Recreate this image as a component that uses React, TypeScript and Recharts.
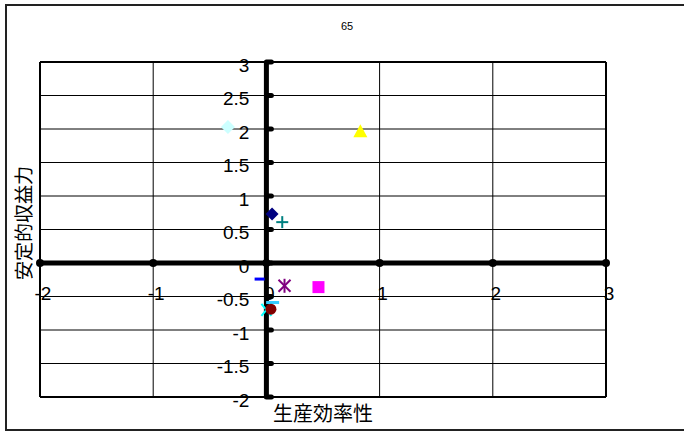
import { ScatterChart, Scatter, XAxis, YAxis, ReferenceLine, ReferenceDot } from 'recharts';

// x-axis: 生産効率性, y-axis: 安定的収益力
const markerKinds = ['diamondLight', 'triangle', 'diamondNavy', 'plus', 'dashBlue', 'asterisk', 'square', 'dashCyan', 'cross', 'circle'];
const xValues = [-0.34, 0.83, 0.05, 0.14, -0.06, 0.16, 0.46, 0.055, 0.0, 0.04];
const yValues = [2.03, 1.95, 0.73, 0.61, -0.24, -0.34, -0.36, -0.59, -0.7, -0.69];

const xTicks = [-2, -1, 0, 1, 2, 3];
const yTicks = [-2, -1.5, -1, -0.5, 0, 0.5, 1, 1.5, 2, 2.5, 3];

const FONT = '"Liberation Sans", Arial, sans-serif';
const CJK = '"Noto Sans CJK JP", sans-serif';

const renderMarker = (kind: string) => (props: any) => {
    const { cx, cy } = props;
    switch (kind) {
        case 'diamondLight':
            return <polygon points={`${cx},${cy - 7} ${cx + 7},${cy} ${cx},${cy + 7} ${cx - 7},${cy}`} fill="#ccffff" />;
        case 'diamondNavy':
            return <polygon points={`${cx},${cy - 6.5} ${cx + 6.5},${cy} ${cx},${cy + 6.5} ${cx - 6.5},${cy}`} fill="#000080" />;
        case 'triangle':
            return <polygon points={`${cx},${cy - 8} ${cx + 7},${cy + 5} ${cx - 7},${cy + 5}`} fill="#ffff00" />;
        case 'square':
            return <rect x={cx - 6} y={cy - 6} width={12} height={12} fill="#ff00ff" />;
        case 'circle':
            return <circle cx={cx} cy={cy} r={5.5} fill="#800000" />;
        case 'plus':
            return (
                <g stroke="#008080" strokeWidth={2}>
                    <line x1={cx - 6} y1={cy} x2={cx + 6} y2={cy} />
                    <line x1={cx} y1={cy - 6} x2={cx} y2={cy + 6} />
                </g>
            );
        case 'asterisk':
            return (
                <g stroke="#800080" strokeWidth={2}>
                    <line x1={cx - 6} y1={cy - 6} x2={cx + 6} y2={cy + 6} />
                    <line x1={cx - 6} y1={cy + 6} x2={cx + 6} y2={cy - 6} />
                    <line x1={cx} y1={cy - 7} x2={cx} y2={cy + 7} />
                </g>
            );
        case 'cross':
            return (
                <g stroke="#00ffff" strokeWidth={2}>
                    <line x1={cx - 5} y1={cy - 6} x2={cx + 5} y2={cy + 6} />
                    <line x1={cx - 5} y1={cy + 6} x2={cx + 5} y2={cy - 6} />
                </g>
            );
        case 'dashBlue':
            return <rect x={cx - 5} y={cy - 1.5} width={10} height={3} fill="#0000ff" />;
        case 'dashCyan':
            return <rect x={cx - 6.5} y={cy - 1.5} width={13} height={3} fill="#33ccff" />;
        default:
            return <circle cx={cx} cy={cy} r={4} fill="#000" />;
    }
};

const yTickMark = (props: any) => (
    <line x1={props.cx} y1={props.cy} x2={props.cx + 5} y2={props.cy} stroke="#000" strokeWidth={5} strokeLinecap="round" />
);

const isEdge = (v: number, ticks: number[]) => v === ticks[0] || v === ticks[ticks.length - 1];

export default function App() {
    return (
        <div style={{ position: 'absolute', left: 0, top: 0, width: 684, height: 432, background: '#fff', overflow: 'hidden' }}>
            <div style={{ position: 'absolute', left: 5, top: 4, width: 700, height: 423, border: '2px solid #222' }} />
            <div style={{ position: 'absolute', left: 0, top: 20, width: 694, textAlign: 'center', fontFamily: FONT, fontSize: 11, color: '#000' }}>65</div>
            <ScatterChart width={684} height={432} margin={{ top: 62, right: 78, bottom: 35, left: 40 }} style={{ position: 'absolute', left: 0, top: 0 }}>
                <XAxis type="number" dataKey="x" domain={[-2, 3]} ticks={xTicks} height={0} tick={false} axisLine={false} tickLine={false} />
                <YAxis type="number" dataKey="y" domain={[-2, 3]} ticks={yTicks} width={0} tick={false} axisLine={false} tickLine={false} />
                {yTicks.map((v) => (
                    <ReferenceLine key={`hg${v}`} y={v} stroke="#000" strokeWidth={isEdge(v, yTicks) ? 2 : 1} />
                ))}
                {xTicks.map((v) => (
                    <ReferenceLine key={`vg${v}`} x={v} stroke="#000" strokeWidth={isEdge(v, xTicks) ? 2 : 1} />
                ))}
                <ReferenceLine y={0} stroke="#000" strokeWidth={5} />
                <ReferenceLine x={0} stroke="#000" strokeWidth={5} />
                {yTicks.map((v) => (
                    <ReferenceDot key={`yt${v}`} x={0} y={v} r={0} shape={yTickMark}
                        label={{ value: String(v), position: 'left', offset: 17, dy: 3, fontSize: 19, fill: '#000', fontFamily: FONT }} />
                ))}
                {xTicks.map((v) => (
                    <ReferenceDot key={`xt${v}`} x={v} y={0} r={4} fill="#000" stroke="none"
                        label={{ value: String(v), position: 'bottom', offset: 20, dx: 3, fontSize: 19, fill: '#000', fontFamily: FONT }} />
                ))}
                {markerKinds.map((kind, i) => (
                    <Scatter key={kind} data={[{ x: xValues[i], y: yValues[i] }]} shape={renderMarker(kind)} isAnimationActive={false} />
                ))}
            </ScatterChart>
            <div style={{ position: 'absolute', left: 263, top: 400, width: 120, textAlign: 'center', fontFamily: CJK, fontSize: 20, lineHeight: '26px' }}>生産効率性</div>
            <div style={{ position: 'absolute', left: 23, top: 223, transform: 'translate(-50%, -50%) rotate(-90deg)', whiteSpace: 'nowrap', fontFamily: CJK, fontSize: 19, lineHeight: '24px' }}>安定的収益力</div>
        </div>
    );
}
